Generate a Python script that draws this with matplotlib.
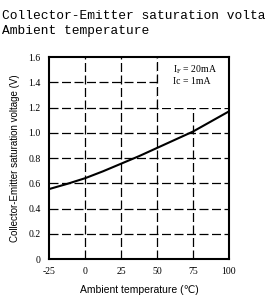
import matplotlib
matplotlib.use("Agg")
import matplotlib.pyplot as plt
from matplotlib.patches import Rectangle

temps = [-25, -12.5, 0, 12.5, 25, 37.5, 50, 62.5, 75, 87.5, 100]
vce_sat = [0.554, 0.595, 0.64, 0.695, 0.755, 0.815, 0.88, 0.945, 1.01, 1.09, 1.17]

x_ticks = [-25, 0, 25, 50, 75, 100]
y_ticks = [0, 0.2, 0.4, 0.6, 0.8, 1.0, 1.2, 1.4, 1.6]
y_tick_labels = ["0", "0.2", "0.4", "0.6", "0.8", "1.0", "1.2", "1.4", "1.6"]

fig = plt.figure(figsize=(2.69, 3.04), dpi=100)
ax = fig.add_axes([0.182, 0.148, 0.669, 0.664])

dash = (0, (7.2, 2.8))
# dashed grid
for xv in x_ticks[1:-1]:
    ax.axvline(xv, color="black", lw=0.9, ls=dash, zorder=1)
for yv in y_ticks[1:-1]:
    ax.axhline(yv, color="black", lw=0.9, ls=dash, zorder=1)

# white box behind the condition note
ax.add_patch(Rectangle((50, 1.2), 50, 0.4, facecolor="white", edgecolor="none", zorder=2))
ax.plot([50, 50], [1.2, 1.6], color="black", lw=0.9, ls=dash, zorder=3)

ax.plot(temps, vce_sat, color="black", lw=1.5, zorder=4)

ax.text(61, 1.48, r"I$_\mathregular{F}$ = 20mA", fontsize=7, family="Liberation Serif", zorder=5)
ax.text(61, 1.39, "Ic = 1mA", fontsize=7, family="Liberation Serif", zorder=5)

ax.set_xlim(-25, 100)
ax.set_ylim(0, 1.6)
ax.set_xticks(x_ticks)
ax.set_xticklabels([str(v) for v in x_ticks], family="Liberation Serif", fontsize=7)
ax.set_yticks(y_ticks)
ax.set_yticklabels(y_tick_labels, family="Liberation Serif", fontsize=7)
ax.tick_params(length=0, pad=6)
for s in ax.spines.values():
    s.set_linewidth(1.5)

ax.set_ylabel("Collector-Emitter saturation voltage (V)", family=["Liberation Sans", "DejaVu Sans"], fontsize=7, labelpad=6)
ax.set_xlabel("Ambient temperature (\u2103)", family=["Liberation Sans", "DejaVu Sans"], fontsize=7.5, labelpad=6)

# the source image crops the first title line at the right edge
fig.text(0.007, 0.938, "Collector-Emitter saturation volta", family="Liberation Mono", fontsize=9.3)
fig.text(0.007, 0.888, "Ambient temperature", family="Liberation Mono", fontsize=9.3)

fig.savefig("out.png", dpi=100)
